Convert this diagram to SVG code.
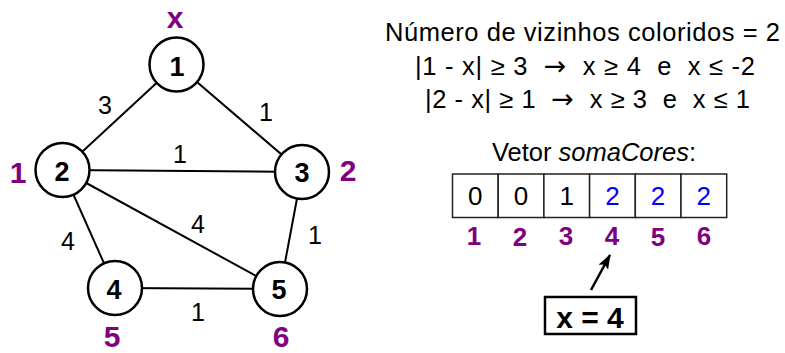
<svg xmlns="http://www.w3.org/2000/svg" width="785" height="353" viewBox="0 0 785 353">
<defs>
<style>
text{font-family:"Liberation Sans",Arial,sans-serif;}
.node circle{fill:#fff;stroke:#000;stroke-width:2.5;}
.nl{font-size:27px;font-weight:bold;text-anchor:middle;fill:#000;}
.edge{stroke:#000;stroke-width:2;}
.el{font-size:25px;text-anchor:middle;fill:#000;}
.pl{font-size:30px;font-weight:bold;text-anchor:middle;fill:#800080;}
.txt{font-size:25.5px;fill:#000;white-space:pre;}
.ar{font-family:"DejaVu Sans",sans-serif;font-size:27px;}
.cell{fill:#fff;stroke:#222;stroke-width:1.5;}
.val{font-size:26px;text-anchor:middle;}
.idx{font-size:26px;font-weight:bold;text-anchor:middle;fill:#800080;}
</style>
<marker id="ah" viewBox="0 0 14 10" refX="13" refY="5" markerWidth="6" markerHeight="4.3" orient="auto">
<path d="M0,0 L14,5 L0,10 L3,5 z" fill="#000"/>
</marker>
</defs>
<rect width="785" height="353" fill="#fff"/>
<g id="connectors">
<line class="edge" x1="176.5" y1="64.5" x2="62.5" y2="170"/>
<line class="edge" x1="176.5" y1="64.5" x2="302" y2="172"/>
<line class="edge" x1="62.5" y1="170" x2="302" y2="172"/>
<line class="edge" x1="62.5" y1="170" x2="280" y2="289"/>
<line class="edge" x1="62.5" y1="170" x2="115" y2="288"/>
<line class="edge" x1="302" y1="172" x2="280" y2="289"/>
<line class="edge" x1="115" y1="288" x2="280" y2="289"/>
<text class="el" x="105" y="114">3</text>
<text class="el" x="266" y="121">1</text>
<text class="el" x="180" y="163">1</text>
<text class="el" x="198" y="233">4</text>
<text class="el" x="68" y="250">4</text>
<text class="el" x="315" y="244">1</text>
<text class="el" x="198" y="321">1</text>
</g>
<g id="node1" class="node"><circle cx="176.5" cy="64.5" r="27"/><text class="nl" x="177" y="76">1</text></g>
<g id="node2" class="node"><circle cx="62.5" cy="170" r="27"/><text class="nl" x="62" y="181">2</text></g>
<g id="node3" class="node"><circle cx="302" cy="172" r="27"/><text class="nl" x="302" y="182">3</text></g>
<g id="node4" class="node"><circle cx="115" cy="288" r="27"/><text class="nl" x="114" y="299">4</text></g>
<g id="node5" class="node"><circle cx="280" cy="289" r="27"/><text class="nl" x="279" y="299">5</text></g>
<g id="colors">
<text class="pl" x="175" y="28">x</text>
<text class="pl" x="18" y="183">1</text>
<text class="pl" x="348" y="181">2</text>
<text class="pl" x="112" y="347">5</text>
<text class="pl" x="281" y="347">6</text>
</g>
<g id="info">
<text class="txt" x="385" y="41" textLength="395" lengthAdjust="spacing">Número de vizinhos coloridos = 2</text>
<text class="txt" x="415" y="75" textLength="340" lengthAdjust="spacing">|1 - x| ≥ 3  <tspan class="ar">→</tspan>  x ≥ 4  e  x ≤ -2</text>
<text class="txt" x="425" y="108" textLength="325" lengthAdjust="spacing">|2 - x| ≥ 1  <tspan class="ar">→</tspan>  x ≥ 3  e  x ≤ 1</text>
<text class="txt" x="594" y="161" text-anchor="middle">Vetor <tspan font-style="italic">somaCores</tspan>:</text>
</g>
<g id="array">
<rect class="cell" x="452.5" y="174" width="45.7" height="43.5"/>
<rect class="cell" x="498.2" y="174" width="45.7" height="43.5"/>
<rect class="cell" x="543.9" y="174" width="45.7" height="43.5"/>
<rect class="cell" x="589.6" y="174" width="45.7" height="43.5"/>
<rect class="cell" x="635.3" y="174" width="45.7" height="43.5"/>
<rect class="cell" x="681" y="174" width="45.7" height="43.5"/>
<text class="val" x="475.3" y="205" fill="#000">0</text>
<text class="val" x="521" y="205" fill="#000">0</text>
<text class="val" x="566.7" y="205" fill="#000">1</text>
<text class="val" x="612.4" y="205" fill="#0000ff">2</text>
<text class="val" x="658.1" y="205" fill="#0000ff">2</text>
<text class="val" x="703.8" y="205" fill="#0000ff">2</text>
<text class="idx" x="474" y="245">1</text>
<text class="idx" x="520" y="246">2</text>
<text class="idx" x="566" y="245">3</text>
<text class="idx" x="612" y="245">4</text>
<text class="idx" x="658" y="246">5</text>
<text class="idx" x="704" y="245">6</text>
</g>
<g id="pointer">
<line x1="591" y1="290" x2="610" y2="255" stroke="#000" stroke-width="2.5" marker-end="url(#ah)"/>
</g>
<g id="answer">
<rect x="545" y="297" width="91" height="37" fill="#fff" stroke="#000" stroke-width="2.5"/>
<text x="590" y="328" font-size="30" font-weight="bold" text-anchor="middle">x = 4</text>
</g>
</svg>
